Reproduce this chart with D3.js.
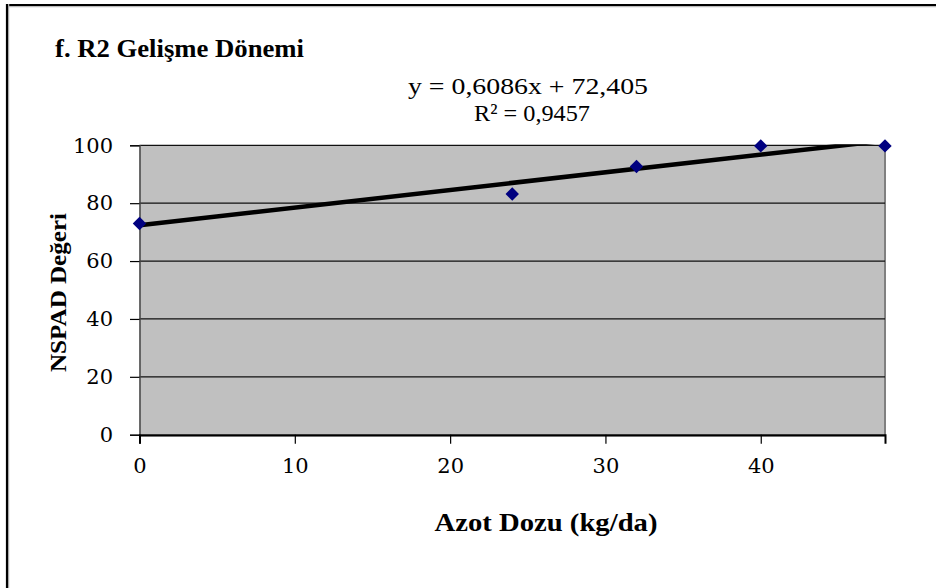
<!DOCTYPE html>
<html><head><meta charset="utf-8">
<script src="https://cdn.jsdelivr.net/npm/d3@7"></script>
<style>body{margin:0;background:#fff}svg{display:block}</style>
</head><body>
<script>
const doses = [0, 24, 32, 40, 48];
const nspad = [73.0, 83.2, 92.7, 99.8, 99.8];
const trendSlope = 0.6086;
const trendIntercept = 72.405;
const yTicks = [0, 20, 40, 60, 80, 100];
const xTicks = [0, 10, 20, 30, 40];
const title = "f. R2 Gelişme Dönemi";
const eqText = "y = 0,6086x + 72,405";
const r2Text = "R² = 0,9457";
const xLabel = "Azot Dozu (kg/da)";
const yLabel = "NSPAD Değeri";

const W = 936, H = 588;
const svg = d3.select("body").append("svg").attr("width", W).attr("height", H);
const serif = "'Liberation Serif','Times New Roman',serif";
const tickFont = "'DejaVu Serif','Liberation Serif',serif";

// chart frame (top + left)
svg.append("line").attr("x1",6).attr("x2",W).attr("y1",6.5).attr("y2",6.5).attr("stroke","#bbb").attr("stroke-width",1.5);
svg.append("line").attr("x1",6).attr("x2",W).attr("y1",5).attr("y2",5).attr("stroke","#000").attr("stroke-width",2.2);
svg.append("line").attr("x1",8.5).attr("x2",8.5).attr("y1",4).attr("y2",H).attr("stroke","#bbb").attr("stroke-width",1.5);
svg.append("line").attr("x1",7).attr("x2",7).attr("y1",4).attr("y2",H).attr("stroke","#000").attr("stroke-width",2.2);

const L = 139.5, R = 885, T = 145.3, B = 434.7;
const x = d3.scaleLinear().domain([0, 48]).range([L, R]);
const y = d3.scaleLinear().domain([0, 100]).range([B, T]);

svg.append("rect").attr("x",L).attr("y",T).attr("width",R-L).attr("height",B-T).attr("fill","#C0C0C0");
svg.append("line").attr("x1",R).attr("x2",R).attr("y1",T).attr("y2",B+1.5).attr("stroke","#808080").attr("stroke-width",2);
svg.append("line").attr("x1",L).attr("x2",R+1).attr("y1",B+1.8).attr("y2",B+1.8).attr("stroke","#999").attr("stroke-width",1.2);

// gridlines
svg.append("g").selectAll("line").data(yTicks.filter(d=>d>0)).join("line")
  .attr("x1",L).attr("x2",R).attr("y1",d=>y(d)).attr("y2",d=>y(d))
  .attr("stroke","#111").attr("stroke-width",1.2);

// axes
const yAxis = svg.append("g").attr("transform",`translate(${L},0)`)
  .call(d3.axisLeft(y).tickValues(yTicks).tickSize(9.5).tickPadding(17));
const xAxis = svg.append("g").attr("transform",`translate(0,${B})`)
  .call(d3.axisBottom(x).tickValues(xTicks).tickSize(9).tickPadding(14));
[yAxis, xAxis].forEach(g=>{
  g.selectAll(".tick line").attr("stroke","#000").attr("stroke-width",1.2);
  g.selectAll("text").attr("font-family",tickFont).attr("font-size",21).attr("fill","#000");
});
yAxis.select(".domain").attr("stroke","#444").attr("stroke-width",1.5);
xAxis.select(".domain").attr("stroke","#000").attr("stroke-width",2);
xAxis.selectAll("text").attr("dy","0.72em");

// trend line, clipped to plot area
svg.append("clipPath").attr("id","clip").append("rect").attr("x",L).attr("y",T-1).attr("width",R-L).attr("height",B-T+1);
const xDom = x.domain();
svg.append("line").attr("clip-path","url(#clip)")
  .attr("x1",x(xDom[0])).attr("y1",y(trendIntercept+trendSlope*xDom[0]))
  .attr("x2",x(xDom[1])).attr("y2",y(trendIntercept+trendSlope*xDom[1]))
  .attr("stroke","#000").attr("stroke-width",4.5);

// points
const sym = d3.symbol().type(d3.symbolDiamond2).size(115);
svg.append("g").selectAll("path").data(doses.map((d,i)=>[d,nspad[i]])).join("path")
  .attr("d",sym).attr("transform",d=>`translate(${x(d[0])},${y(d[1])})`)
  .attr("fill","#000080");

// texts
function txt(t, xx, yy, size, bold, len, anchor){
  const e = svg.append("text").attr("x",xx).attr("y",yy).attr("font-family",serif)
    .attr("font-size",size).attr("font-weight",bold?"bold":"normal")
    .attr("text-anchor",anchor||"start").text(t);
  if (len) e.attr("textLength",len).attr("lengthAdjust","spacingAndGlyphs");
  return e;
}
txt(title, 55, 56.5, 26, true, 249);
txt(eqText, 528, 94, 24, false, 240, "middle");
txt(r2Text, 532, 121, 24, false, 116, "middle");
txt(xLabel, 546, 531, 25, true, 223, "middle");
svg.append("text").attr("transform","translate(66,292.5) rotate(-90)").attr("text-anchor","middle")
  .attr("font-family",serif).attr("font-weight","bold").attr("font-size",24)
  .attr("textLength",159).attr("lengthAdjust","spacingAndGlyphs").text(yLabel);
</script>
</body></html>
